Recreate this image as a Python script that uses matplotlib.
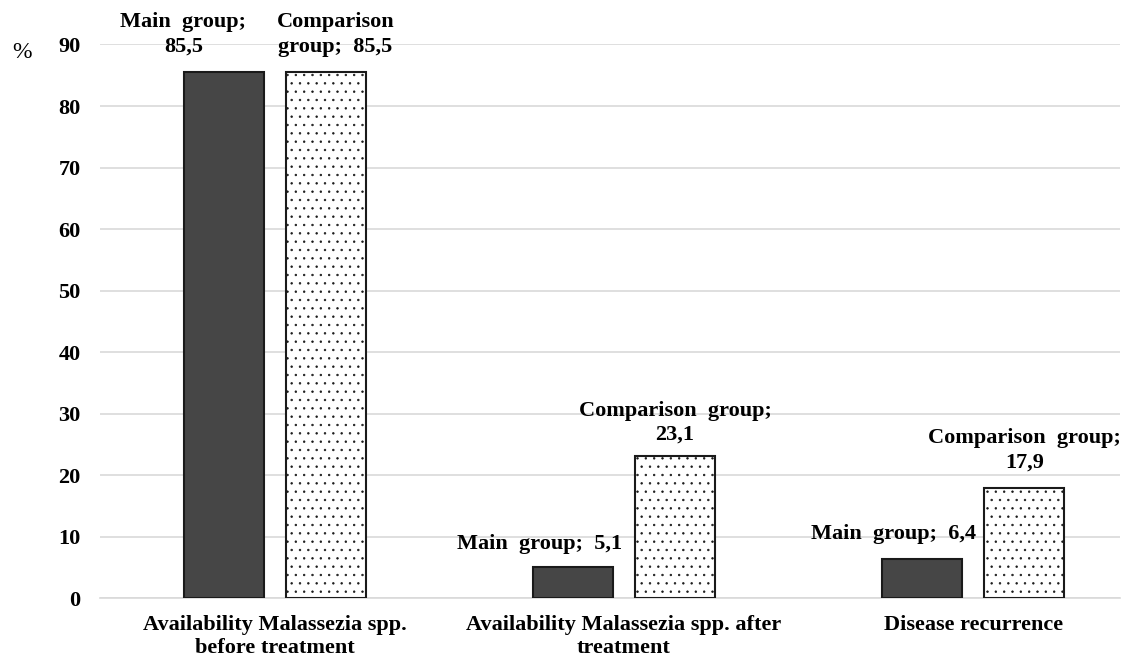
import matplotlib
matplotlib.use("Agg")
import matplotlib.pyplot as plt
import numpy as np

categories = ["Availability Malassezia spp.\nbefore treatment",
              "Availability Malassezia spp. after\ntreatment",
              "Disease recurrence"]
series_names = ["Main group", "Comparison group"]
main_values = [85.5, 5.1, 6.4]
comp_values = [85.5, 23.1, 17.9]
yticks = [0, 10, 20, 30, 40, 50, 60, 70, 80, 90]

plt.rcParams['font.family'] = ['Liberation Serif', 'DejaVu Serif']
plt.rcParams['hatch.linewidth'] = 0.5
plt.rcParams['hatch.color'] = '#222222'

fig = plt.figure(figsize=(11.36, 6.64), dpi=100)
ax = fig.add_axes([0.088, 0.099, 0.898, 0.834])

x = np.arange(len(categories))
w = 0.229
off = 0.146
ax.bar(x - off, main_values, w, color='#464646', edgecolor='#1a1a1a', linewidth=1.5, zorder=3)
ax.bar(x + off, comp_values, w, color='white', edgecolor='#1a1a1a', linewidth=1.5,
       hatch='..', zorder=3)

ax.set_ylim(0, 90)
ax.set_xlim(-0.5, 2.42)
ax.set_yticks(yticks)
ax.set_yticklabels([str(t) for t in yticks], fontsize=16, fontweight='bold')
ax.set_xticks(x)
ax.set_xticklabels(categories, fontsize=16, fontweight='bold', linespacing=1.2)
ax.grid(axis='y', color='#d9d9d9', linewidth=1.2, zorder=0)
for s in ['top', 'right', 'left']:
    ax.spines[s].set_visible(False)
ax.spines['bottom'].set_color('#d9d9d9')
ax.spines['bottom'].set_linewidth(1.2)
ax.tick_params(axis='x', length=0, pad=12)
ax.tick_params(axis='y', length=0, pad=14)

fs = 16
lsp = 1.3

def label(xv, yv, txt, dx=0, dy=10, ha='center'):
    ax.annotate(txt, (xv, yv), xytext=(dx, dy), textcoords='offset points',
                ha=ha, va='bottom', fontsize=fs, fontweight='bold', linespacing=lsp,
                zorder=4)

label(x[0] - off, main_values[0], "Main  group;\n85,5", dx=-29, dy=11)
label(x[0] + off, comp_values[0], "Comparison\ngroup;  85,5", dx=7, dy=11)
label(x[1] - off, main_values[1], "Main  group;  5,1", dx=-24, dy=9)
label(x[1] + off, comp_values[1], "Comparison  group;\n23,1", dy=8)
label(x[2] - off, main_values[2], "Main  group;  6,4", dx=-21, dy=11)
label(x[2] + off, comp_values[2], "Comparison  group;\n17,9", dy=11)

fig.text(22 / 1136, 1 - 53 / 664, "%", fontsize=17, ha='center', va='center')

fig.savefig("out.png", dpi=100)
